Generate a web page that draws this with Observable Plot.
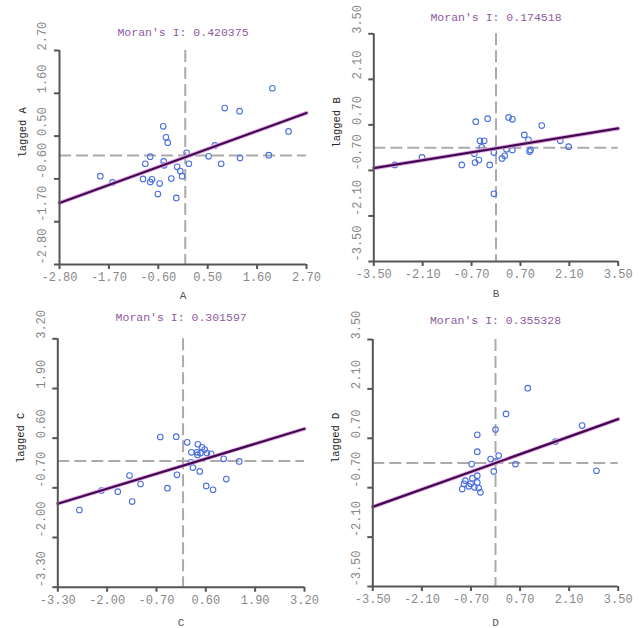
<!DOCTYPE html>
<html><head><meta charset="utf-8">
<script src="https://cdn.jsdelivr.net/npm/d3@7"></script>
<script src="https://cdn.jsdelivr.net/npm/@observablehq/plot@0.6"></script>
<style>
body{margin:0;background:#fff;}
#wrap{position:relative;width:643px;height:628px;overflow:hidden;background:#fff;}
.panel{position:absolute;}
</style></head><body><div id="wrap"></div>
<script>
const names = ["A", "B", "C", "D"];
const moransI = [0.420375, 0.174518, 0.301597, 0.355328];
const intercepts = [-0.04, -0.02, -0.12, 0.0];

const xTicksA = [-2.80, -1.70, -0.60, 0.50, 1.60, 2.70];
const yTicksA = [-2.80, -1.70, -0.60, 0.50, 1.60, 2.70];
const xTicksB = [-3.50, -2.10, -0.70, 0.70, 2.10, 3.50];
const yTicksB = [-3.50, -2.10, -0.70, 0.70, 2.10, 3.50];
const xTicksC = [-3.30, -2.00, -0.70, 0.60, 1.90, 3.20];
const yTicksC = [-3.30, -2.00, -0.70, 0.60, 1.90, 3.20];
const xTicksD = [-3.50, -2.10, -0.70, 0.70, 2.10, 3.50];
const yTicksD = [-3.50, -2.10, -0.70, 0.70, 2.10, 3.50];

const aX = [1.94,0.88,1.21,2.30,-0.49,-0.43,-0.39,0.66,0.03,-0.78,0.52,1.22,1.86,-0.89,-0.48,0.08,0.80,-0.18,-0.11,-0.07,-1.89,-1.62,-0.94,-0.74,-0.78,-0.57,-0.31,-0.61,-0.20,-0.47];
const aY = [1.73,1.22,1.14,0.62,0.75,0.47,0.33,0.26,0.07,-0.03,-0.02,-0.06,0.01,-0.21,-0.15,-0.21,-0.21,-0.29,-0.40,-0.53,-0.53,-0.69,-0.60,-0.61,-0.68,-0.72,-0.59,-0.99,-1.09,-0.25];

const bX = [-0.58,-0.24,0.36,0.47,1.31,0.81,0.93,-0.46,-0.34,1.84,2.08,-0.41,0.30,0.47,0.99,-0.06,-0.62,0.25,0.17,-0.49,-0.60,-0.98,-0.18,-0.06,-2.12,-2.90,0.96];
const bY = [0.80,0.89,0.93,0.87,0.68,0.39,0.24,0.21,0.21,0.21,0.03,0.01,-0.05,-0.07,-0.07,-0.15,-0.19,-0.25,-0.33,-0.38,-0.46,-0.53,-0.53,-1.42,-0.30,-0.53,-0.12];

const cX = [-0.60,-0.18,0.11,0.39,0.50,0.57,0.37,0.22,0.46,0.38,0.63,0.74,1.07,1.48,0.21,0.26,0.44,-0.16,1.14,-1.41,-1.12,0.61,0.79,-0.41,-2.15,-1.72,-1.34,-2.73];
const cY = [0.63,0.64,0.49,0.44,0.36,0.30,0.23,0.23,0.21,0.16,0.21,0.19,0.06,-0.01,-0.03,-0.17,-0.27,-0.36,-0.47,-0.38,-0.60,-0.65,-0.75,-0.71,-0.77,-0.80,-1.06,-1.28];

const dX = [2.47,1.71,0.00,-0.52,-0.52,-0.14,0.09,0.00,0.57,-0.68,-0.05,2.88,-0.52,-0.66,-0.86,-0.90,-0.71,-0.52,-0.60,-0.95,-0.48,-0.43,-0.76,0.92,0.30];
const dY = [1.06,0.61,0.95,0.80,0.32,0.11,0.21,0.04,-0.03,-0.03,-0.24,-0.22,-0.36,-0.43,-0.50,-0.59,-0.59,-0.55,-0.69,-0.74,-0.71,-0.83,-0.66,2.12,1.39];

const XS = [aX, bX, cX, dX];
const YS = [aY, bY, cY, dY];
const XT = [xTicksA, xTicksB, xTicksC, xTicksD];
const YT = [yTicksA, yTicksB, yTicksC, yTicksD];

// layout only
const layout = [
  {left: 0,   top: 0,   w: 320, h: 310, mL: 59,   mR: 14,   mT: 50,   mB: 46,   titleDy: -17.7, xlabDy: 30.7},
  {left: 320, top: 0,   w: 323, h: 310, mL: 53.3, mR: 25.3, mT: 33.3, mB: 49,   titleDy: -16,   xlabDy: 32.3},
  {left: 0,   top: 310, w: 320, h: 318, mL: 57.3, mR: 16,   mT: 28.3, mB: 41.3, titleDy: -21,   xlabDy: 35},
  {left: 320, top: 310, w: 323, h: 318, mL: 52.3, mR: 25.3, mT: 29,   mB: 42,   titleDy: -19,   xlabDy: 35.5}
];

const font = '"Liberation Mono", "DejaVu Sans Mono", monospace';
const wrap = document.getElementById("wrap");

names.forEach((name, i) => {
  const L = layout[i];
  const pts = XS[i].map((x, j) => ({x, y: YS[i][j]}));
  const xd = [XT[i][0], XT[i][XT[i].length - 1]];
  const yd = [YT[i][0], YT[i][YT[i].length - 1]];
  const fit = xd.map(x => ({x, y: moransI[i] * x + intercepts[i]}));
  const fmt = d => d.toFixed(2);
  const plot = Plot.plot({
    width: L.w, height: L.h,
    marginLeft: L.mL, marginRight: L.mR, marginTop: L.mT, marginBottom: L.mB,
    style: {fontFamily: font, fontSize: "12px", background: "transparent", overflow: "visible"},
    x: {domain: xd, label: null},
    y: {domain: yd, label: null},
    marks: [
      Plot.ruleY([0], {stroke: "#ababab", strokeWidth: 2, strokeDasharray: "12,5"}),
      Plot.ruleX([0], {stroke: "#ababab", strokeWidth: 2, strokeDasharray: "12,5"}),
      Plot.dot(pts, {x: "x", y: "y", r: 2.8, stroke: "#4a6fe0", strokeWidth: 1.1, fill: "none"}),
      Plot.line(fit, {x: "x", y: "y", stroke: "#e9a3ea", strokeWidth: 4}),
      Plot.line(fit, {x: "x", y: "y", stroke: "#3e0b4c", strokeWidth: 2.2}),
      Plot.ruleX([xd[0]], {stroke: "#555", strokeWidth: 2}),
      Plot.ruleY([yd[0]], {stroke: "#555", strokeWidth: 2}),
      Plot.axisX({ticks: XT[i], tickSize: 5, stroke: "#555", strokeWidth: 2, fill: "#888", tickFormat: fmt, tickPadding: 3, label: null}),
      Plot.axisY({ticks: YT[i], tickSize: 5, stroke: "#555", strokeWidth: 2, fill: "none", label: null}),
      Plot.text(YT[i], {y: d => d, frameAnchor: "left", dx: -17, rotate: -90, text: fmt, fill: "#888", lineAnchor: "middle"}),
      Plot.text([`Moran's I: ${moransI[i].toFixed(6)}`], {frameAnchor: "top", dy: L.titleDy, fill: "#8e5aa0", fontSize: 11.5, lineAnchor: "middle"}),
      Plot.text([name], {frameAnchor: "bottom", dy: L.xlabDy, fill: "#555", fontSize: 11, lineAnchor: "middle"}),
      Plot.text([`lagged ${name}`], {frameAnchor: "left", dx: -37, rotate: -90, fill: "#222", fontSize: 10.5, lineAnchor: "middle"})
    ]
  });
  const div = document.createElement("div");
  div.className = "panel";
  div.style.left = L.left + "px";
  div.style.top = L.top + "px";
  div.appendChild(plot);
  wrap.appendChild(div);
});
</script>
</body></html>
